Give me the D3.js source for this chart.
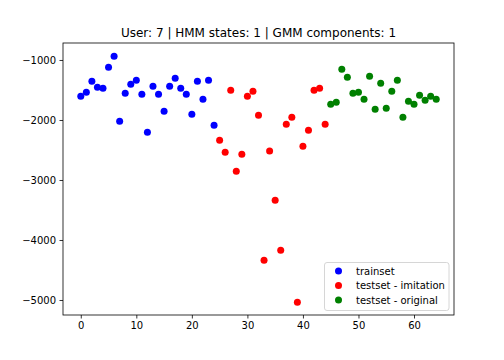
<!DOCTYPE html>
<html><head><meta charset="utf-8">
<script src="https://cdn.jsdelivr.net/npm/d3@7"></script>
<style>body{margin:0;background:#fff}svg{display:block}text{font-family:"DejaVu Sans",sans-serif}</style>
</head><body>
<svg id="c" width="504" height="360"></svg>
<script>
const trainX = [0,1,2,3,4,5,6,7,8,9,10,11,12,13,14,15,16,17,18,19,20,21,22,23,24];
const trainY = [-1605,-1538,-1355,-1455,-1472,-1122,-938,-2022,-1555,-1405,-1338,-1572,-2205,-1438,-1572,-1855,-1438,-1305,-1472,-1572,-1905,-1355,-1655,-1338,-2088];
const imitX = [25,26,27,28,29,30,31,32,33,34,35,36,37,38,39,40,41,42,43,44];
const imitY = [-2338,-2538,-1505,-2855,-2572,-1605,-1522,-1922,-4338,-2517,-3338,-4172,-2072,-1955,-5038,-2438,-2172,-1505,-1472,-2072];
const origX = [45,46,47,48,49,50,51,52,53,54,55,56,57,58,59,60,61,62,63,64];
const origY = [-1738,-1705,-1155,-1288,-1555,-1538,-1655,-1272,-1822,-1388,-1805,-1522,-1338,-1955,-1688,-1738,-1588,-1672,-1605,-1655];
const xTicks = [0,10,20,30,40,50,60];
const yTicks = [-1000,-2000,-3000,-4000,-5000];
const seriesNames = ["trainset","testset - imitation","testset - original"];
const seriesColors = ["#0000ff","#ff0000","#008000"];
const title = "User: 7 | HMM states: 1 | GMM components: 1";

const L=63, R=454, T=43, B=315;
const svg = d3.select("#c");
const x = d3.scaleLinear().domain([-3.2,67.2]).range([L,R]);
const y = d3.scaleLinear().domain([-5250,-717]).range([B,T]);

const series = [[trainX,trainY],[imitX,imitY],[origX,origY]];
series.forEach(([xs,ys],i)=>{
  svg.append("g").selectAll("circle").data(xs.map((v,j)=>[v,ys[j]])).join("circle")
    .attr("cx",d=>x(d[0])).attr("cy",d=>y(d[1])).attr("r",3.5).attr("fill",seriesColors[i]);
});

const fmt = v => (v<0?"\u2212":"")+Math.abs(v);
const xa = svg.append("g").attr("transform",`translate(0,${B})`)
  .call(d3.axisBottom(x).tickValues(xTicks).tickSize(3.5).tickPadding(3.5).tickFormat(d=>d));
const ya = svg.append("g").attr("transform",`translate(${L},0)`)
  .call(d3.axisLeft(y).tickValues(yTicks).tickSize(3.5).tickPadding(3.5).tickFormat(fmt));
[xa,ya].forEach(a=>{a.select(".domain").remove();a.selectAll("text").attr("font-size",10).attr("fill","#000").attr("font-family","DejaVu Sans");a.selectAll("line").attr("stroke","#000").attr("stroke-width",0.8);});

svg.append("rect").attr("x",L).attr("y",T).attr("width",R-L).attr("height",B-T)
  .attr("fill","none").attr("stroke","#000").attr("stroke-width",0.8);

svg.append("text").attr("x",(L+R)/2).attr("y",37).attr("text-anchor","middle")
  .attr("font-size",12).text(title);

const lg = svg.append("g");
lg.append("rect").attr("x",324.5).attr("y",262.5).attr("width",124.5).attr("height",48)
  .attr("rx",2.5).attr("fill","#fff").attr("fill-opacity",0.8).attr("stroke","#ccc").attr("stroke-width",0.8);
seriesNames.forEach((n,i)=>{
  const cy = 271 + i*14.5;
  lg.append("circle").attr("cx",338.5).attr("cy",cy).attr("r",3.5).attr("fill",seriesColors[i]);
  lg.append("text").attr("x",356).attr("y",cy+3.6).attr("font-size",10).text(n);
});
</script>
</body></html>
